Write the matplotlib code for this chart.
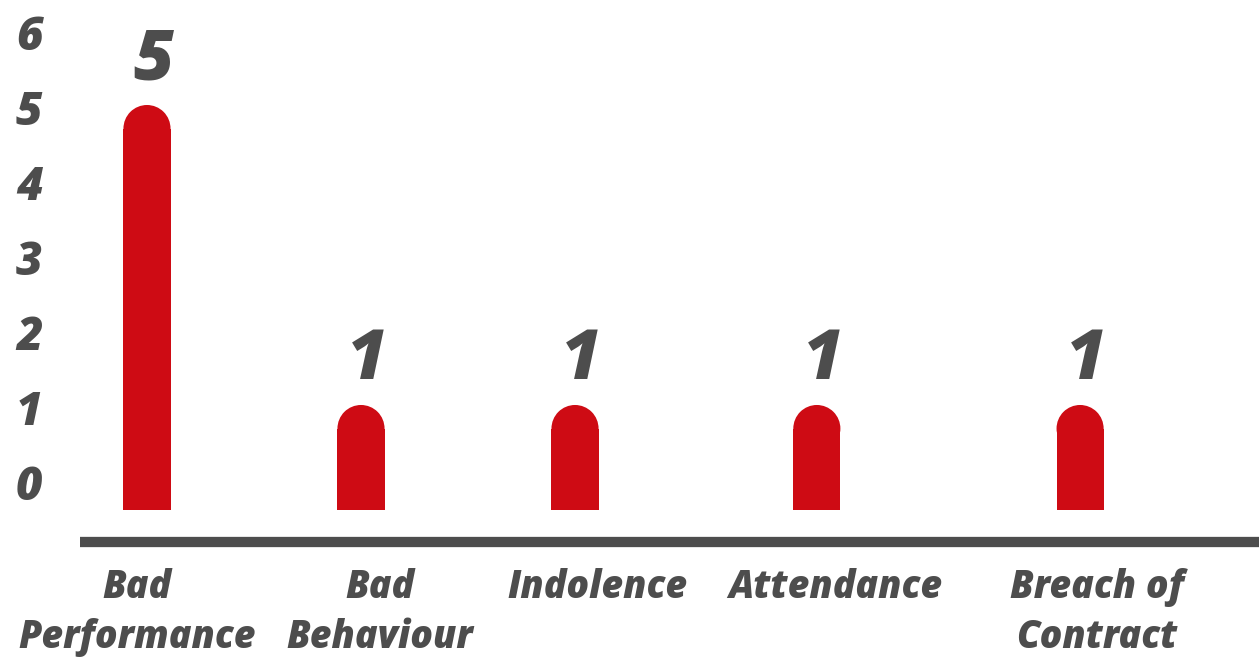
import matplotlib
matplotlib.use("Agg")
import matplotlib.pyplot as plt
import matplotlib.transforms as mtransforms
from matplotlib.patches import Ellipse

categories = ["Bad\nPerformance", "Bad\nBehaviour", "Indolence", "Attendance", "Breach of\nContract"]
counts = [5, 1, 1, 1, 1]
y_ticks = [0, 1, 2, 3, 4, 5, 6]

# slot of each bar along x (gaps widen towards the right), and of its label
slots = [0, 1, 2, 3.13, 4.36]
label_slots = [-0.047, 1.089, 2.103, 3.215, 4.439]

RED = "#CE0B14"
GREY = "#4D4D4D"
FONT = "Open Sans"

fig = plt.figure(figsize=(12.59, 6.58), dpi=100)
ax = fig.add_axes([80 / 1259, 1 - 542 / 658, 1 - 80 / 1259, 542 / 658])
ax.set_xlim(-0.313, 5.196)
ax.set_ylim(-0.827, 6.4)

bar_w = 0.22
base = -0.4
# rounded top radius, converted from x units to y units
px_x = ax.transData.transform((1, 0))[0] - ax.transData.transform((0, 0))[0]
px_y = ax.transData.transform((0, 1))[1] - ax.transData.transform((0, 0))[1]
r_y = (bar_w / 2) * px_x / px_y

for x, v in zip(slots, counts):
    ax.bar(x, v - r_y - base, bottom=base, width=bar_w, color=RED, linewidth=0)
    ax.add_patch(Ellipse((x, v - r_y), bar_w, 2 * r_y, color=RED, linewidth=0))
    ax.text(x + 0.03, v + 0.34, str(v), ha="center", va="baseline", fontsize=50,
            fontweight=800, fontstyle="italic", family=FONT, color=GREY)

for s in ["top", "right", "left"]:
    ax.spines[s].set_visible(False)
ax.spines["bottom"].set_linewidth(7.4)
ax.spines["bottom"].set_color(GREY)
ax.spines["bottom"].set_capstyle("butt")

ax.set_yticks(y_ticks)
ax.set_yticklabels([str(t) for t in y_ticks])
ax.set_xticks(label_slots)
ax.set_xticklabels(categories, linespacing=1.36)
ax.tick_params(axis="y", length=0, pad=27)
ax.tick_params(axis="x", length=0, pad=19)
shift_down = mtransforms.ScaledTranslation(0, -2 / 72, fig.dpi_scale_trans)
for lab in ax.get_yticklabels():
    lab.set(fontsize=33, fontweight=800, fontstyle="italic", family=FONT, color=GREY, ha="right")
    lab.set_transform(lab.get_transform() + shift_down)
for lab in ax.get_xticklabels():
    lab.set(fontsize=27, fontweight=800, fontstyle="italic", family=FONT, color=GREY)

fig.savefig("out.png", dpi=100)
